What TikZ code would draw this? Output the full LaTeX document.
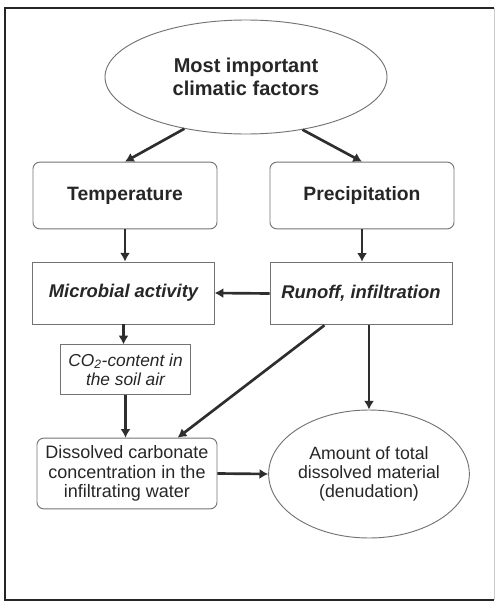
\documentclass[tikz,border=0pt]{standalone}
\usepackage{fontspec}
\setmainfont{Liberation Sans}
\usetikzlibrary{arrows.meta, shapes.geometric, calc}

\begin{document}
\begin{tikzpicture}[>={Latex[length=6.5pt,width=7.5pt]}, x=0.75pt, y=-0.75pt,
  boxline/.style={draw=black!55, line width=0.7pt, text=black!85, align=center, inner sep=0pt},
  roundbox/.style={boxline, rounded corners=5pt},
  plainbox/.style={boxline},
  oval/.style={boxline, ellipse},
  link/.style={->, line width=2pt, black!82}]
  \useasboundingbox (0,0) rectangle (496,604);

  % Frame
  \draw[black!20, line width=0.6pt] (494,8) -- (494,600);
  \draw[black!85, line width=2.2pt] (494,8) -- (5,8) -- (5,600) -- (494,600);

  % Top ellipse
  \node[oval, minimum width=211.5pt, minimum height=85.5pt,
        font=\fontsize{15}{17}\selectfont\bfseries] (climate) at (246,77)
        {Most important\\climatic factors};

  % Climatic factors
  \node[roundbox, minimum width=138pt, minimum height=50pt,
        font=\fontsize{14.5}{17}\selectfont\bfseries] (temp) at (125,195.5) {Temperature};
  \node[roundbox, minimum width=138pt, minimum height=50pt,
        font=\fontsize{14.5}{17}\selectfont\bfseries] (precip) at (362,195.5) {Precipitation};

  % Processes
  \node[plainbox, minimum width=136pt, minimum height=46.5pt,
        font=\fontsize{13.8}{16}\selectfont\bfseries\itshape] (microbe) at (123.5,293) {Microbial activity};
  \node[plainbox, minimum width=136.5pt, minimum height=47pt,
        font=\fontsize{13.8}{16}\selectfont\bfseries\itshape] (runoff) at (361,293.5) {Runoff, infiltration};
  \node[plainbox, minimum width=98pt, minimum height=37pt,
        font=\fontsize{13}{14.5}\selectfont\itshape] (co2) at (125.5,369.5)
        {CO\textsubscript{2}-content in\\the soil air};

  % Results
  \node[roundbox, minimum width=135pt, minimum height=53pt,
        font=\fontsize{13.5}{14.5}\selectfont] (dissolved) at (127,473.5)
        {Dissolved carbonate\\concentration in the\\infiltrating water};
  \node[oval, minimum width=144pt, minimum height=96pt,
        font=\fontsize{13.3}{14.5}\selectfont] (amount) at (369,474)
        {Amount of total\\dissolved material\\(denudation)};

  % Arrows
  \draw[link] (climate.220) -- (temp.north);
  \draw[link] (climate.317) -- (precip.north);
  \draw[link] (temp.south) -- (temp.south |- microbe.north);
  \draw[link] (precip.south) -- (precip.south |- runoff.north);
  \draw[link] (runoff.west) -- (microbe.east);
  \draw[link] (microbe.south) -- (microbe.south |- co2.north);
  \draw[link] (co2.south) -- (co2.south |- dissolved.north);
  \draw[link] ($(runoff.south west)!0.3!(runoff.south east)$)
    -- ($(dissolved.north west)!0.78!(dissolved.north east)$);
  \draw[link] (amount.north |- runoff.south) -- (amount.north);
  \draw[link] (dissolved.east) -- (amount.west);
\end{tikzpicture}
\end{document}
